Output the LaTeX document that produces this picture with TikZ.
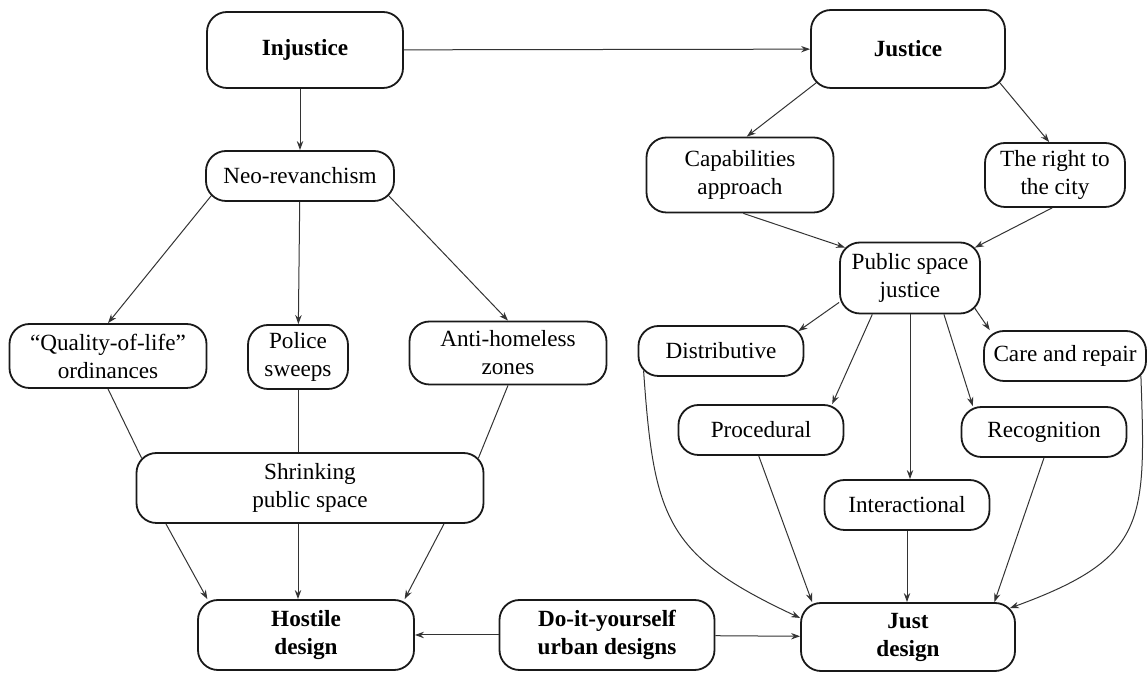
\documentclass[tikz,border=0pt]{standalone}
\usepackage{fontspec}
\setmainfont{Liberation Serif}
\usetikzlibrary{arrows.meta,calc}

\begin{document}
\begin{tikzpicture}[x=0.5pt, y=0.5pt,
  box/.style={draw=black!90, line width=0.9pt, rounded corners=10pt, align=center,
    inner sep=2pt, font=\fontsize{11.6}{14}\selectfont},
  keybox/.style={box, font=\fontsize{11.6}{14}\selectfont\bfseries},
  arr/.style={line width=0.5pt, draw=black!80, -{Stealth[length=4.5pt,width=3.2pt]}},
  ln/.style={line width=0.5pt, draw=black!80}]
  \useasboundingbox (0,0) rectangle (1148,-673);
  \node[keybox, minimum width=98pt, minimum height=38pt] (inj) at (305,-50) {Injustice};
  \node[keybox, minimum width=97pt, minimum height=39pt] (jus) at (908,-49) {Justice};
  \node[box, minimum width=94pt, minimum height=25pt] (neo) at (300,-176) {Neo-revanchism};
  \node[box, minimum width=98.5pt, minimum height=32pt] (qol) at (108,-356) {“Quality-of-life”\\ordinances};
  \node[box, minimum width=50pt, minimum height=32pt] (pol) at (298,-357) {Police\\sweeps};
  \node[box, minimum width=98.5pt, minimum height=31.5pt] (anti) at (508,-353) {Anti-homeless\\zones};
  \node[box, minimum width=173.5pt, minimum height=35pt] (shr) at (310,-488) {Shrinking\\public space};
  \node[keybox, minimum width=108pt, minimum height=35pt] (hos) at (306,-635) {Hostile\\design};
  \node[keybox, minimum width=107.5pt, minimum height=35pt] (diy) at (607,-635) {Do-it-yourself\\urban designs};
  \node[keybox, minimum width=107pt, minimum height=34pt] (jd) at (908,-637) {Just\\design};
  \node[box, minimum width=93.5pt, minimum height=37.5pt] (cap) at (740,-175) {Capabilities\\approach};
  \node[box, minimum width=70pt, minimum height=32pt] (rtc) at (1055,-175) {The right to\\the city};
  \node[box, minimum width=70pt, minimum height=35.5pt] (psj) at (910,-278) {Public space\\justice};
  \node[box, minimum width=82.5pt, minimum height=25pt] (dist) at (721,-351) {Distributive};
  \node[box, minimum width=81pt, minimum height=25pt] (care) at (1065,-356) {Care and repair};
  \node[box, minimum width=82.5pt, minimum height=25pt] (proc) at (761,-430) {Procedural};
  \node[box, minimum width=82.5pt, minimum height=25pt] (rec) at (1044,-432) {Recognition};
  \node[box, minimum width=82.5pt, minimum height=25pt] (inter) at (907,-505) {Interactional};

  \draw[arr] (inj) -- (jus);
  \draw[arr] (neo.north |- inj.south) -- (neo.north);
  \draw[arr] ($(neo.south west)+(6,6)$) -- (qol.north);
  \draw[arr] (neo) -- (pol);
  \draw[arr] ($(neo.south east)+(-6,6)$) -- (anti.north);
  \draw[ln] (qol.south) -- ($(shr.north west)+(6,-6)$);
  \draw[ln] (pol.south) -- (pol.south |- shr.north);
  \draw[ln] (anti.south) -- ($(shr.north east)+(-6,-6)$);
  \draw[arr] (shr.194) -- (hos.160);
  \draw[arr] (pol.south |- shr.south) -- (pol.south |- hos.north);
  \draw[arr] (shr.345) -- (hos.20);
  \draw[arr] (diy) -- (hos);
  \draw[arr] (diy) -- (jd);

  \draw[arr] ($(jus.south west)+(6,6)$) -- (cap.80);
  \draw[arr] ($(jus.south east)+(-6,6)$) -- (rtc.100);
  \draw[arr] (cap.275) -- ($(psj.north west)+(6,-6)$);
  \draw[arr] (rtc.265) -- ($(psj.north east)+(-6,-6)$);
  \draw[arr] (psj.199) -- ($(dist.north east)+(-6,-6)$);
  \draw[arr] (psj.224) -- (proc.20);
  \draw[arr] (psj.south) -- (psj.south |- inter.north);
  \draw[arr] (psj.313) -- (rec.160);
  \draw[arr] ($(psj.south east)+(-6,6)$) -- (care.161);
  \draw[arr] ($(dist.south west)+(6,6)$) to[out=-86, in=155, looseness=1.3] (jd.170);
  \draw[arr] (proc.265) -- (jd.160);
  \draw[arr] (inter.south) -- (inter.south |- jd.north);
  \draw[arr] (rec.south) -- (jd.22);
  \draw[arr] ($(care.south east)+(-6,6)$) to[out=-88, in=20, looseness=1.4] ($(jd.north east)+(-6,-6)$);
\end{tikzpicture}
\end{document}
